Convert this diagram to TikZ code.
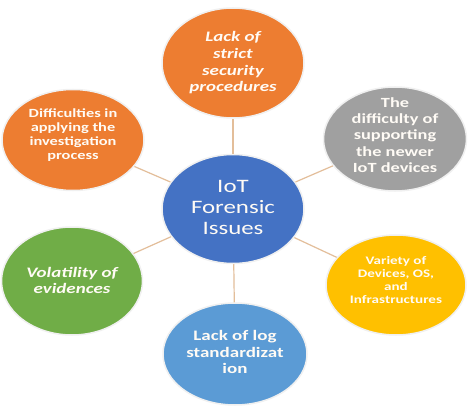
\documentclass[tikz,border=0pt]{standalone}
\usepackage{fontspec}
\setmainfont{Carlito}[FakeStretch=1.31]
\usetikzlibrary{shapes.geometric}
\definecolor{orng}{HTML}{ED7D31}
\definecolor{gry}{HTML}{A0A0A0}
\definecolor{cblue}{HTML}{4472C4}
\definecolor{lblue}{HTML}{5B9BD5}
\definecolor{grn}{HTML}{70AD47}
\definecolor{ylw}{HTML}{FFC000}
\definecolor{conncol}{HTML}{E3BE9A}
\definecolor{txtcol}{HTML}{FFFBF5}
\begin{document}
\begin{tikzpicture}[x=1pt,y=-1pt,
  bubble/.style={ellipse, inner sep=0pt, minimum width=#1, draw=black!6, line width=1.5pt},
  bubble/.default=142pt,
  txt/.style={text=txtcol, align=center, inner sep=0pt, font=\bfseries},
  conn/.style={draw=conncol, line width=1.2pt}]
\path[fill=white] (0,0) rectangle (474,417);
\useasboundingbox (0,0) rectangle (474,417);

% ellipses
\node[bubble=142pt, minimum height=110pt, fill=orng] (top) at (233,63) {};
\node[bubble=142pt, minimum height=101pt, fill=orng] (tl) at (73,140) {};
\node[bubble=143pt, minimum height=104pt, fill=gry] (tr) at (395,139) {};
\node[bubble=142pt, minimum height=109pt, fill=cblue] (ctr) at (233,209) {};
\node[bubble=141pt, minimum height=108pt, fill=grn] (bl) at (72,281) {};
\node[bubble=140pt, minimum height=100pt, fill=ylw] (br) at (396,285) {};
\node[bubble=144pt, minimum height=102pt, fill=lblue] (bot) at (235,354) {};

% connectors
\draw[conn] (ctr) -- (top);
\draw[conn] (ctr) -- (tl);
\draw[conn] (ctr) -- (tr);
\draw[conn] (ctr) -- (bl);
\draw[conn] (ctr) -- (br);
\draw[conn] (ctr) -- (bot);

% texts
\node[txt, font=\fontsize{19}{21}\selectfont] (ctrlbl) at (233,207) {IoT\\Forensic\\Issues};
\node[txt, font=\bfseries\itshape\fontsize{14.5}{16.7}\selectfont] (toplbl) at (233,63) {Lack of\\strict\\security\\procedures};
\node[txt, font=\bfseries\fontsize{12.5}{14.2}\selectfont] (tllbl) at (73,135) {Difficulties in\\applying the\\investigation\\process};
\node[txt, font=\bfseries\fontsize{14}{16.3}\selectfont] (trlbl) at (395,135) {The\\difficulty of\\supporting\\the newer\\IoT devices};
\node[txt, font=\bfseries\itshape\fontsize{14.5}{16}\selectfont] (bllbl) at (72,280) {Volatility of\\evidences};
\node[txt, font=\bfseries\fontsize{11.5}{13}\selectfont] (brlbl) at (396,280) {Variety of\\Devices, OS,\\and\\Infrastructures};
\node[txt, font=\bfseries\fontsize{14.5}{16.5}\selectfont] (botlbl) at (235,352) {Lack of log\\standardizat\\ion};
\end{tikzpicture}
\end{document}
